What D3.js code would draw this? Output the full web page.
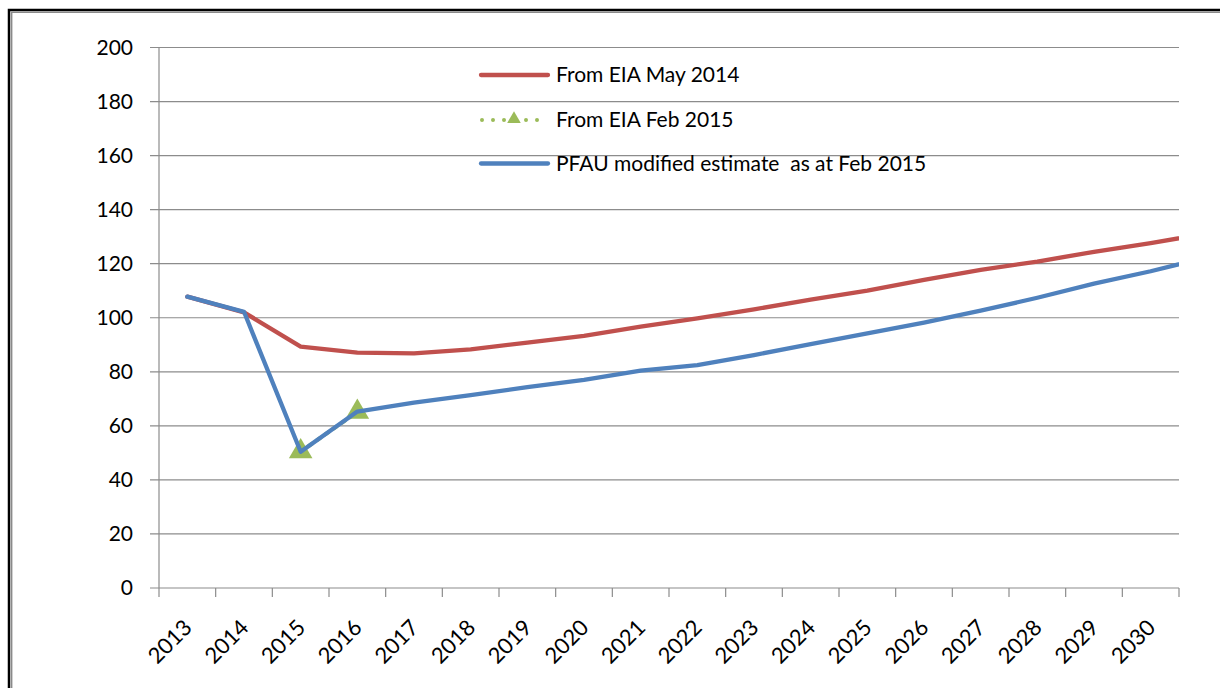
<!DOCTYPE html>
<html>
<head>
<meta charset="utf-8">
<script src="https://cdn.jsdelivr.net/npm/d3@7"></script>
<style>
  body { margin: 0; background: #fff; }
  svg { display: block; font-family: Lato, "Open Sans", sans-serif; }
</style>
</head>
<body>
<div id="chart"></div>
<script>
// category labels on the x axis
var years = [2013, 2014, 2015, 2016, 2017, 2018, 2019, 2020, 2021, 2022,
             2023, 2024, 2025, 2026, 2027, 2028, 2029, 2030];
// the two long series carry one more point (2031) that is clipped at the plot edge
var seriesYears = years.concat([2031]);
var eiaMay2014 = [107.8, 102.0, 89.3, 87.1, 86.8, 88.3, 90.8, 93.3, 96.7, 99.8,
                  103.1, 106.7, 110.0, 114.0, 117.7, 120.8, 124.4, 127.6, 131.2];
var pfauFeb2015 = [107.8, 102.2, 50.4, 65.3, 68.6, 71.4, 74.3, 77.0, 80.4, 82.5,
                   86.2, 90.2, 94.2, 98.2, 102.6, 107.4, 112.6, 117.2, 122.4];
var eiaFeb2015Years = [2015, 2016];
var eiaFeb2015 = [50.5, 65.1];
var yTicks = [0, 20, 40, 60, 80, 100, 120, 140, 160, 180, 200];
var legendNames = ["From EIA May 2014", "From EIA Feb 2015", "PFAU modified estimate  as at Feb 2015"];

var W = 1220, H = 688;
var plotLeft = 159, plotRight = 1179, plotTop = 47.5, plotBottom = 588;

var svg = d3.select("#chart").append("svg")
	.attr("width", W)
	.attr("height", H);

// frame (only left and top edges are visible in the crop)
svg.append("path").attr("d", "M9,688V10H1220").attr("fill", "none")
	.attr("stroke", "#000").attr("stroke-width", 2.5);
svg.append("path").attr("d", "M11.6,688V12.3H1220").attr("fill", "none")
	.attr("stroke", "#8a8a8a").attr("stroke-width", 1.6);

var x = d3.scaleLinear().domain([2013, 2031]).range([plotLeft, plotRight]);
var y = d3.scaleLinear().domain([0, 200]).range([plotBottom, plotTop]);

// gridlines
svg.append("g").selectAll("line").data(yTicks).join("line")
	.attr("x1", plotLeft - 9).attr("x2", plotRight)
	.attr("y1", function(d){ return y(d); })
	.attr("y2", function(d){ return y(d); })
	.attr("stroke", "#8c8c8c").attr("stroke-width", 1.2);

// y axis line
svg.append("line").attr("x1", plotLeft).attr("x2", plotLeft)
	.attr("y1", y(200)).attr("y2", y(0))
	.attr("stroke", "#8c8c8c").attr("stroke-width", 1.2);

// x ticks at category boundaries
svg.append("g").selectAll("line").data(seriesYears).join("line")
	.attr("x1", function(d){ return x(d); })
	.attr("x2", function(d){ return x(d); })
	.attr("y1", y(0)).attr("y2", y(0) + 9)
	.attr("stroke", "#8c8c8c").attr("stroke-width", 1.2);

// y labels
svg.append("g").selectAll("text").data(yTicks).join("text")
	.attr("x", 133)
	.attr("y", function(d){ return y(d); })
	.attr("dy", "0.35em")
	.attr("text-anchor", "end")
	.attr("font-size", "21px")
	.attr("fill", "#000")
	.text(function(d){ return d; });

// x labels, rotated
svg.append("g").selectAll("text").data(years).join("text")
	.attr("text-anchor", "end")
	.attr("font-size", "22px")
	.attr("fill", "#000")
	.attr("transform", function(d){
		return "translate(" + (x(d + 0.5) + 6) + "," + 629 + ")rotate(-45)";
	})
	.text(function(d){ return d; });

// clip for the lines
svg.append("clipPath").attr("id", "plotclip").append("rect")
	.attr("x", plotLeft).attr("y", plotTop - 10)
	.attr("width", plotRight - plotLeft).attr("height", plotBottom - plotTop + 10);

var line = d3.line()
	.x(function(d){ return x(d[0] + 0.5); })
	.y(function(d){ return y(d[1]); });

var plot = svg.append("g").attr("clip-path", "url(#plotclip)");

var red = "#c0504d", blue = "#4f81bd", green = "#9bbb59";

plot.append("path")
	.datum(d3.zip(seriesYears, eiaMay2014))
	.attr("d", line).attr("fill", "none")
	.attr("stroke", red).attr("stroke-width", 4.3)
	.attr("stroke-linejoin", "round").attr("stroke-linecap", "round");

// green dotted series with triangle markers
var greenData = d3.zip(eiaFeb2015Years, eiaFeb2015);
plot.append("path")
	.datum(greenData)
	.attr("d", line).attr("fill", "none")
	.attr("stroke", green).attr("stroke-width", 4)
	.attr("stroke-dasharray", "4,6").attr("stroke-linecap", "round");

var tri = d3.symbol().type(d3.symbolTriangle).size(240);
plot.selectAll("path.marker").data(greenData).join("path")
	.attr("class", "marker")
	.attr("d", tri)
	.attr("transform", function(d){ return "translate(" + x(d[0] + 0.5) + "," + y(d[1]) + ")"; })
	.attr("fill", green);

plot.append("path")
	.datum(d3.zip(seriesYears, pfauFeb2015))
	.attr("d", line).attr("fill", "none")
	.attr("stroke", blue).attr("stroke-width", 4.3)
	.attr("stroke-linejoin", "round").attr("stroke-linecap", "round");

// legend
var legendY = [75, 120, 163.5];
var legend = svg.append("g");
legendNames.forEach(function(name, i){
	var g = legend.append("g").attr("transform", "translate(0," + legendY[i] + ")");
	if (i == 1){
		g.append("line").attr("x1", 482).attr("x2", 547)
			.attr("stroke", green).attr("stroke-width", 4)
			.attr("stroke-dasharray", "0,11").attr("stroke-linecap", "round");
		g.append("path").attr("d", d3.symbol().type(d3.symbolTriangle).size(80))
			.attr("transform", "translate(514,-1)").attr("fill", green);
	}
	else {
		g.append("line").attr("x1", 481).attr("x2", 548)
			.attr("stroke", i == 0 ? red : blue).attr("stroke-width", 4.3)
			.attr("stroke-linecap", "round");
	}
	g.append("text").attr("x", 556).attr("dy", "0.35em")
		.attr("font-size", "21px").attr("fill", "#000")
		.style("white-space", "pre")
		.text(name);
});
</script>
</body>
</html>
